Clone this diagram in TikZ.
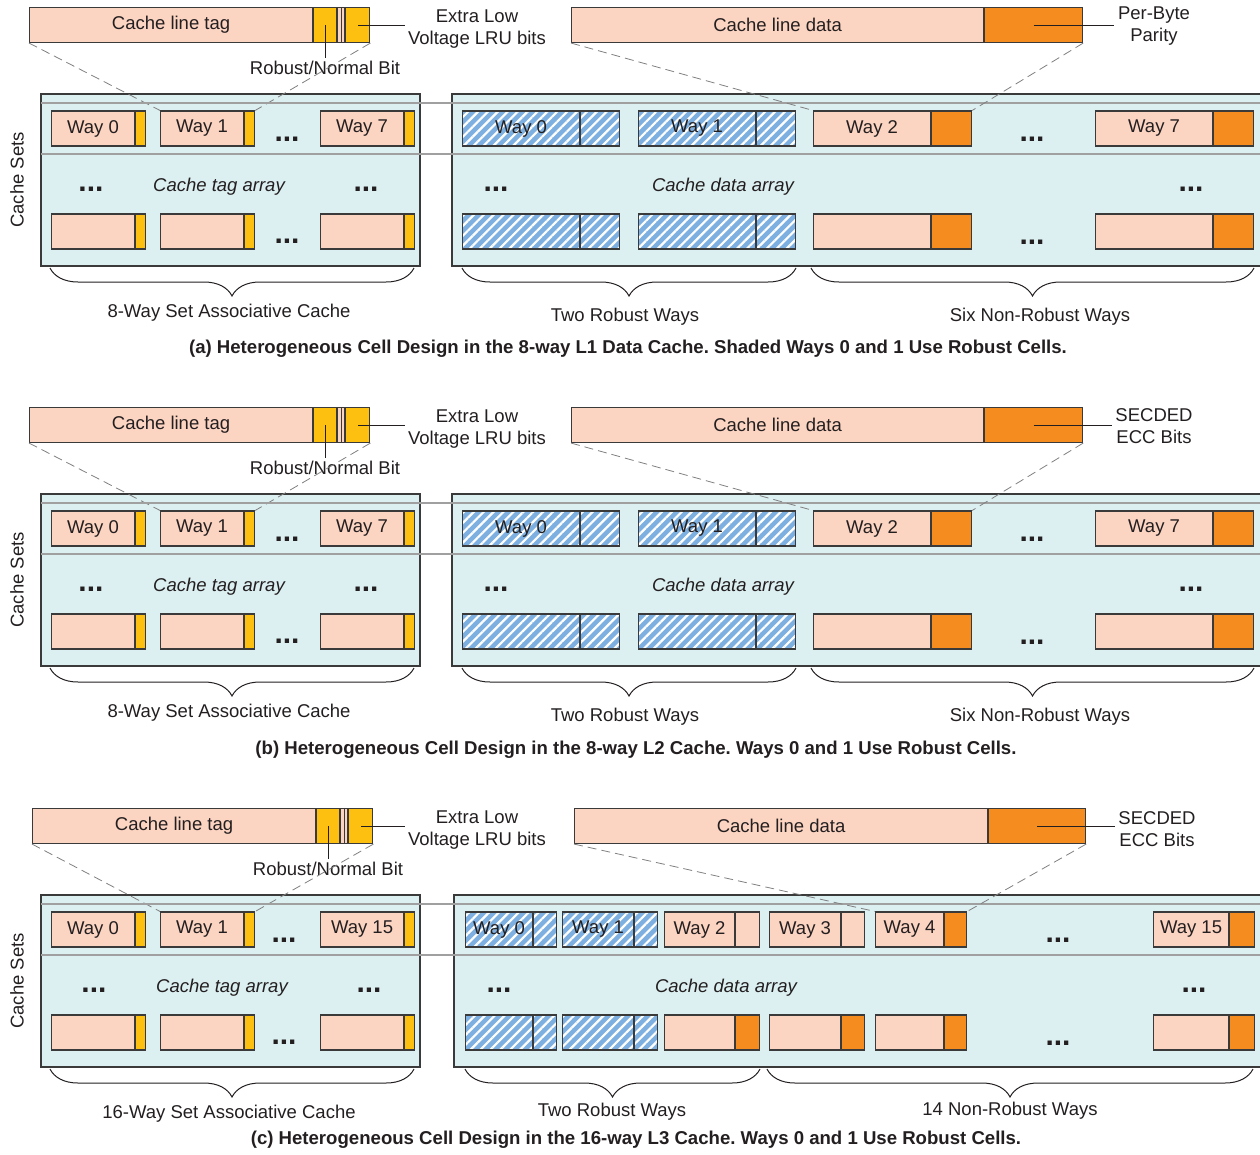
\documentclass[tikz,border=0pt]{standalone}
\usepackage{fontspec}
\setmainfont{Liberation Sans}
\usetikzlibrary{positioning}
\usetikzlibrary{patterns.meta}
\usetikzlibrary{decorations.pathreplacing}

\definecolor{linepink}{HTML}{FCD4C2}
\definecolor{bityellow}{HTML}{FEC010}
\definecolor{eccorange}{HTML}{F48C20}
\definecolor{arraycyan}{HTML}{DCEFF1}
\definecolor{robustblue}{HTML}{7DB0E0}
\definecolor{edgegray}{HTML}{3A3A3A}
\definecolor{bandgray}{HTML}{A0A0A0}
\definecolor{inkgray}{HTML}{231F20}

\newcommand{\labelsize}{\fontsize{18.5}{22}\selectfont}
\newcommand{\captionsize}{\fontsize{18.6}{22}\selectfont\bfseries\frenchspacing}
\newcommand{\dotsfont}{\fontsize{30}{30}\selectfont\bfseries}

\begin{document}
\begin{tikzpicture}
	[
	x=1pt, y=-1pt,
	font=\labelsize,
	text=inkgray
	]
	
	% Box styles: pink line, yellow tag bit, orange ECC part, hatched robust way
	\tikzstyle{way cell}=[draw=edgegray, line width=1.1pt, inner sep=0, anchor=west, minimum height=35pt];
	\tikzstyle{pink cell}=[way cell, fill=linepink];
	\tikzstyle{tag bit}=[way cell, fill=bityellow, minimum width=10pt];
	\tikzstyle{ecc cell}=[way cell, fill=eccorange];
	\tikzstyle{robust cell}=[way cell, fill=robustblue, postaction={pattern={Lines[angle=45,distance=7pt,line width=2.2pt]}, pattern color=white, draw=edgegray, line width=1.1pt}];
	% Arrays, set band, zoom lines and braces
	\tikzstyle{cache array}=[draw=edgegray, line width=1.3pt, fill=arraycyan];
	\tikzstyle{set band}=[draw=bandgray, line width=1.1pt];
	\tikzstyle{zoom line}=[draw=gray, line width=0.8pt, dash pattern=on 9pt off 5pt];
	\tikzstyle{leader}=[draw=inkgray, line width=1pt];
	\tikzstyle{ways brace}=[draw=inkgray, line width=1pt, decorate, decoration={brace, mirror, amplitude=28pt}];
	\tikzstyle{dot row}=[font=\dotsfont, inner sep=0];
	
	\useasboundingbox (0,0) rectangle (1260,1154);
	
	% Tag side of the three panels
	\foreach \pan/\dy/\dx/\lastway/\assoc in {a/0/0/7/8, b/400/0/7/8, c/801/3/15/16}{
	\begin{scope}[shift={(0,\dy)}]
		% cache line tag with robust/normal bit and LRU bits
		\node[pink cell, minimum width=283pt](\pan-tag) at (29+\dx,25){Cache line tag};
		\node[tag bit, minimum width=23pt, right=0pt of \pan-tag](\pan-rbit){};
		\node[pink cell, minimum width=7pt, right=0pt of \pan-rbit](\pan-gap){};
		\node[tag bit, minimum width=24pt, right=0pt of \pan-gap](\pan-lbit){};
		\draw[draw=edgegray, line width=0.5pt](\pan-gap.north)--(\pan-gap.south);
		\node(\pan-rnlbl) at (325+\dx,68){Robust/Normal Bit};
		\node[align=center](\pan-lrulbl) at (477,29){Extra Low\\Voltage LRU bits};
		\draw[leader](\pan-rbit.center)--(\pan-rbit.center |- \pan-rnlbl.north);
		\draw[leader](\pan-lbit.center)--(\pan-lbit.center -| \pan-lrulbl.west);
		
		% tag array
		\draw[cache array](41,94) rectangle (420,266);
		\node[rotate=90](\pan-sets) at (17,180){Cache Sets};
		\foreach \i/\x in {0/51, 1/160, \lastway/320}{
			\node[pink cell, minimum width=83pt](\pan-tw\i) at (\x,128.5){Way \i};
			\node[tag bit, right=0pt of \pan-tw\i](\pan-tw\i-side){};
			\node[pink cell, minimum width=83pt](\pan-tb\i) at (\x,231.5){};
			\node[tag bit, right=0pt of \pan-tb\i](\pan-tb\i-side){};
		}
		\node[dot row](\pan-tdot1) at (287-\dx,139){...};
		\node[dot row](\pan-tdot2) at (287-\dx,241){...};
		\node[dot row](\pan-tdot3) at (91+\dx,189){...};
		\node[dot row](\pan-tdot4) at (366+\dx,189){...};
		\node[font=\labelsize\itshape](\pan-tagname) at (219+\dx,187){Cache tag array};
		\draw[zoom line](\pan-tag.south west)--(\pan-tw1.north west);
		\draw[zoom line](\pan-lbit.south east)--(\pan-tw1-side.north east);
		
		% brace under the tag array
		\coordinate(\pan-tbl) at (50,268);
		\coordinate(\pan-tbr) at (414,268);
		\draw[ways brace](\pan-tbl)--(\pan-tbr);
		\node(\pan-assoc) at (229,313){\assoc-Way Set Associative Cache};
	\end{scope}
	}
	
	% Data side of panels (a) and (b)
	\foreach \pan/\dy/\ecctext in {a/0/{Per-Byte\\Parity}, b/400/{SECDED\\ECC Bits}}{
	\begin{scope}[shift={(0,\dy)}]
		\node[pink cell, minimum width=412pt](\pan-data) at (571,25){Cache line data};
		\node[ecc cell, minimum width=98pt, right=0pt of \pan-data](\pan-ecc){};
		\node[align=center](\pan-ecclbl) at (1154,26){\ecctext};
		\draw[leader](\pan-ecc.center)--(\pan-ecc.center -| \pan-ecclbl.west);
		
		% data array and the set band
		\draw[cache array](452,94) rectangle (1275,266);
		\draw[set band](41,103)--(1275,103);
		\draw[set band](41,154)--(1275,154);
		\foreach \i/\x in {0/462, 1/638}{
			\node[robust cell, minimum width=117pt](\pan-dw\i) at (\x,128.5){Way \i};
			\node[robust cell, minimum width=39pt, right=0pt of \pan-dw\i](\pan-dw\i-side){};
			\node[robust cell, minimum width=117pt](\pan-db\i) at (\x,231.5){};
			\node[robust cell, minimum width=39pt, right=0pt of \pan-db\i](\pan-db\i-side){};
		}
		\foreach \i/\x in {2/813, 7/1095}{
			\node[pink cell, minimum width=117pt](\pan-dw\i) at (\x,128.5){Way \i};
			\node[ecc cell, minimum width=40pt, right=0pt of \pan-dw\i](\pan-dw\i-side){};
			\node[pink cell, minimum width=117pt](\pan-db\i) at (\x,231.5){};
			\node[ecc cell, minimum width=40pt, right=0pt of \pan-db\i](\pan-db\i-side){};
		}
		\node[dot row](\pan-ddot1) at (1032,139){...};
		\node[dot row](\pan-ddot2) at (1032,242){...};
		\node[dot row](\pan-ddot3) at (496,189){...};
		\node[dot row](\pan-ddot4) at (1191,189){...};
		\node[font=\labelsize\itshape](\pan-dataname) at (723,187){Cache data array};
		\draw[zoom line](\pan-data.south west)--(\pan-dw2.north west);
		\draw[zoom line](\pan-ecc.south east)--(\pan-dw2-side.north east);
		
		% braces under the data array
		\coordinate(\pan-rbl) at (462,268);
		\coordinate(\pan-rbr) at (796,268);
		\coordinate(\pan-nbl) at (811,268);
		\coordinate(\pan-nbr) at (1254,268);
		\draw[ways brace](\pan-rbl)--(\pan-rbr);
		\draw[ways brace](\pan-nbl)--(\pan-nbr);
		\node(\pan-robust) at (625,317){Two Robust Ways};
		\node(\pan-normal) at (1040,317){Six Non-Robust Ways};
	\end{scope}
	}
	
	% Data side of panel (c)
	\begin{scope}[shift={(0,801)}]
		\node[pink cell, minimum width=413pt](c-data) at (574,25){Cache line data};
		\node[ecc cell, minimum width=97pt, right=0pt of c-data](c-ecc){};
		\node[align=center](c-ecclbl) at (1157,28){SECDED\\ECC Bits};
		\draw[leader](c-ecc.center)--(c-ecc.center -| c-ecclbl.west);
		
		\draw[cache array](454,94) rectangle (1275,266);
		\draw[set band](41,103)--(1275,103);
		\draw[set band](41,154)--(1275,154);
		\foreach \i/\x/\w in {0/465/67, 1/562/71}{
			\node[robust cell, minimum width=\w pt](c-dw\i) at (\x,128.5){Way \i};
			\node[robust cell, minimum width=23pt, right=0pt of c-dw\i](c-dw\i-side){};
			\node[robust cell, minimum width=\w pt](c-db\i) at (\x,231.5){};
			\node[robust cell, minimum width=23pt, right=0pt of c-db\i](c-db\i-side){};
		}
		\foreach \i/\x/\w/\s/\tf in {2/664/70/24/linepink, 3/769/71/23/linepink, 4/875/68/22/eccorange, 15/1153/75/25/eccorange}{
			\node[pink cell, minimum width=\w pt](c-dw\i) at (\x,128.5){Way \i};
			\node[way cell, fill=\tf, minimum width=\s pt, right=0pt of c-dw\i](c-dw\i-side){};
			\node[pink cell, minimum width=\w pt](c-db\i) at (\x,231.5){};
			\node[ecc cell, minimum width=\s pt, right=0pt of c-db\i](c-db\i-side){};
		}
		\node[dot row](c-ddot1) at (1058,139){...};
		\node[dot row](c-ddot2) at (1058,242){...};
		\node[dot row](c-ddot3) at (499,189){...};
		\node[dot row](c-ddot4) at (1194,189){...};
		\node[font=\labelsize\itshape](c-dataname) at (726,187){Cache data array};
		\draw[zoom line](c-data.south west)--(c-dw4.north west);
		\draw[zoom line](c-ecc.south east)--(c-dw4-side.north east);
		
		\coordinate(c-rbl) at (465,268);
		\coordinate(c-rbr) at (760,268);
		\coordinate(c-nbl) at (767,268);
		\coordinate(c-nbr) at (1253,268);
		\draw[ways brace](c-rbl)--(c-rbr);
		\draw[ways brace](c-nbl)--(c-nbr);
		\node(c-robust) at (612,311){Two Robust Ways};
		\node(c-normal) at (1010,310){14 Non-Robust Ways};
	\end{scope}
	
	% Captions
	\node[font=\captionsize](a-cap) at (628,349){(a) Heterogeneous Cell Design in the 8-way L1 Data Cache. Shaded Ways 0 and 1 Use Robust Cells.};
	\node[font=\captionsize](b-cap) at (636,750){(b) Heterogeneous Cell Design in the 8-way L2 Cache. Ways 0 and 1 Use Robust Cells.};
	\node[font=\captionsize](c-cap) at (636,1140){(c) Heterogeneous Cell Design in the 16-way L3 Cache. Ways 0 and 1 Use Robust Cells.};
	
\end{tikzpicture}
\end{document}
